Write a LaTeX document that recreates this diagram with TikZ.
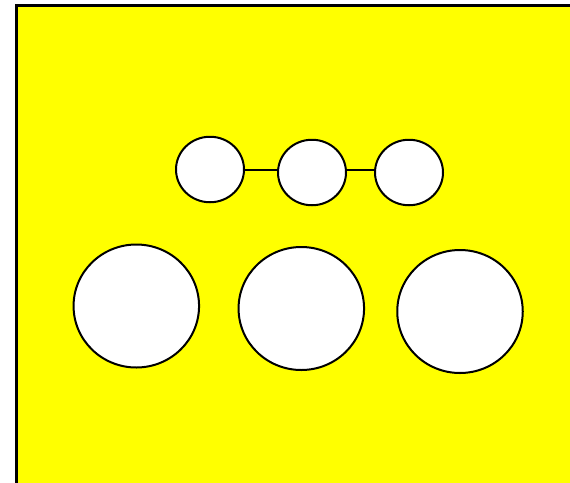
\documentclass[tikz,border=0pt]{standalone}
\usepackage{xcolor}
\definecolor{plateyellow}{RGB}{255, 255, 0}
\usepackage{tikz}
\usetikzlibrary{shapes.geometric}

\begin{document}
\begin{tikzpicture}[x=1pt, y=-1pt,
    smallhole/.style={ellipse, draw=black, fill=white, line width=2pt, minimum width=68pt, minimum height=65.5pt, inner sep=0pt},
    bighole/.style={ellipse, draw=black, fill=white, line width=2pt, minimum width=125.5pt, minimum height=123pt, inner sep=0pt}]
    \useasboundingbox (0, 0) rectangle (570, 482);
    \clip (0, 0) rectangle (570, 482);
    \filldraw[fill=plateyellow, draw=black, line width=3pt] (16.8, 5.5) rectangle (590, 500);

    % upper row, linked
    \node[smallhole] (s1) at (210, 169.5) {};
    \node[smallhole] (s2) at (312, 172.5) {};
    \node[smallhole] (s3) at (409, 172.5) {};
    \draw[line width=2pt] (s1.east) -- (s1.east -| s2.west);
    \draw[line width=2pt] (s1.east -| s2.east) -- (s1.east -| s3.west);

    % lower row
    \node[bighole] (b1) at (136.3, 306) {};
    \node[bighole] (b2) at (301.3, 308.5) {};
    \node[bighole] (b3) at (460, 311.5) {};
\end{tikzpicture}
\end{document}
